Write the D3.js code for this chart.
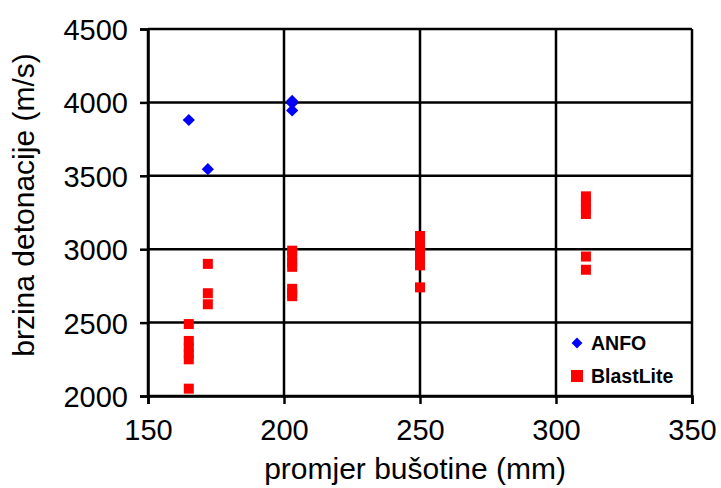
<!DOCTYPE html>
<html><head><meta charset="utf-8">
<script src="https://cdn.jsdelivr.net/npm/d3@7"></script>
<style>
html,body{margin:0;padding:0;background:#fff;}
text{font-family:"Liberation Sans",Arial,sans-serif;fill:#000;}
</style></head>
<body>
<svg id="chart" width="721" height="488"></svg>
<script>
const xTicks = [150, 200, 250, 300, 350];
const yTicks = [2000, 2500, 3000, 3500, 4000, 4500];
const anfoX = [165, 172, 203, 203, 203];
const anfoY = [3880, 3545, 4010, 3995, 3945];
const blastX = [165, 165, 165, 165, 165, 165, 172, 172, 172,
  203, 203, 203, 203, 203, 203, 203,
  250, 250, 250, 250, 250, 250, 250,
  311, 311, 311, 311, 311, 311];
const blastY = [2050, 2250, 2290, 2330, 2375, 2490, 2900, 2700, 2625,
  2990, 2950, 2910, 2880, 2730, 2700, 2680,
  3090, 3050, 3010, 2970, 2930, 2890, 2740,
  3360, 3320, 3280, 3240, 2950, 2860];
const seriesNames = ["ANFO", "BlastLite"];
const xTitle = "promjer bušotine (mm)";
const yTitle = "brzina detonacije (m/s)";

const svg = d3.select("#chart");
const x = d3.scaleLinear().domain([150, 350]).range([148, 692]);
const y = d3.scaleLinear().domain([2000, 4500]).range([396, 29]);

// grid
const g = svg.append("g");
g.selectAll("line.h").data(yTicks).join("line")
  .attr("x1", 148).attr("x2", 692)
  .attr("y1", d => y(d)).attr("y2", d => y(d))
  .attr("stroke", "#000").attr("stroke-width", 2.5);
g.selectAll("line.v").data(xTicks).join("line")
  .attr("x1", d => x(d)).attr("x2", d => x(d))
  .attr("y1", 29).attr("y2", 396)
  .attr("stroke", "#000").attr("stroke-width", 2.5);

// axes
const xAxis = d3.axisBottom(x).tickValues(xTicks).tickSize(8).tickPadding(8).tickFormat(d3.format("d"));
const yAxis = d3.axisLeft(y).tickValues(yTicks).tickSize(8).tickPadding(12).tickFormat(d3.format("d"));
const xa = svg.append("g").attr("transform", "translate(0,396)").call(xAxis);
const ya = svg.append("g").attr("transform", "translate(148,0)").call(yAxis);
[xa, ya].forEach(a => {
  a.select(".domain").attr("stroke", "#000").attr("stroke-width", 2.5);
  a.selectAll(".tick line").attr("stroke", "#000").attr("stroke-width", 2.5);
  a.selectAll(".tick text").style("font-size", "29px").attr("fill", "#000");
});
xa.selectAll(".tick text").attr("dy", "0.95em");
ya.selectAll(".tick text").attr("dy", "0.36em");

// data
const blast = blastX.map((v, i) => [v, blastY[i]]);
const anfo = anfoX.map((v, i) => [v, anfoY[i]]);
const sq = 10;
svg.append("g").selectAll("rect").data(blast).join("rect")
  .attr("x", d => x(d[0]) - sq / 2).attr("y", d => y(d[1]) - sq / 2)
  .attr("width", sq).attr("height", sq).attr("fill", "#ff0000");
const diamond = d3.symbol().type(d3.symbolDiamond2).size(95);
svg.append("g").selectAll("path").data(anfo).join("path")
  .attr("transform", d => `translate(${x(d[0])},${y(d[1])})`)
  .attr("d", diamond).attr("fill", "#0000ff");

// legend
const lg = svg.append("g");
lg.append("path").attr("transform", `translate(577,343)`).attr("d", d3.symbol().type(d3.symbolDiamond2).size(75)).attr("fill", "#0000ff");
lg.append("rect").attr("x", 571).attr("y", 370).attr("width", 12).attr("height", 12).attr("fill", "#ff0000");
lg.selectAll("text").data(seriesNames).join("text")
  .attr("x", 591).attr("y", (d, i) => 343 + i * 33).attr("dy", "0.36em")
  .style("font-size", "19.5px").style("font-weight", "bold").text(d => d);

// titles
svg.append("text").attr("x", 415).attr("y", 479).attr("text-anchor", "middle")
  .style("font-size", "30px").text(xTitle);
svg.append("text").attr("transform", "translate(34,205) rotate(-90)").attr("text-anchor", "middle")
  .style("font-size", "30px").text(yTitle);
</script>
</body></html>
